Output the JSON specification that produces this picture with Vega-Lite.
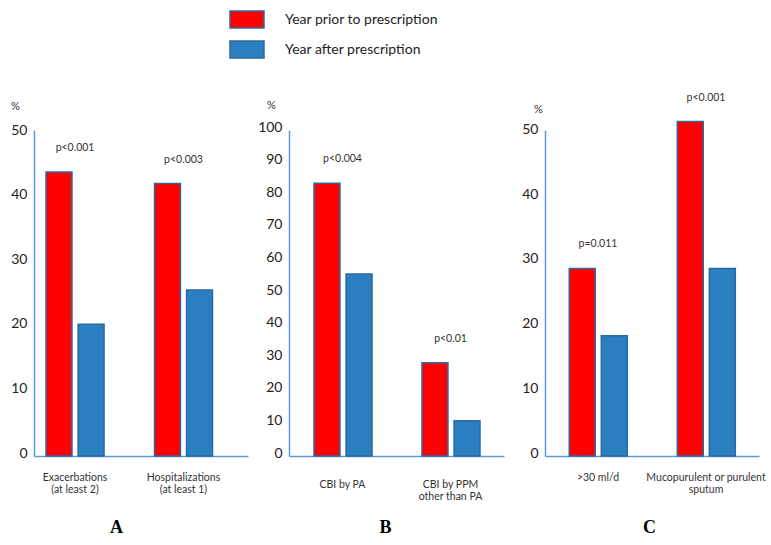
{
  "$schema": "https://vega.github.io/schema/vega-lite/v6.json",
  "padding": {"left": 10, "top": 1, "right": 0, "bottom": 0},
  "background": "white",
  "data": {"values": [
    {"panel": "A", "group": "Exacerbations|(at least 2)", "series": "Year prior to prescription", "value": 44.0, "p": "p<0.001"},
    {"panel": "A", "group": "Exacerbations|(at least 2)", "series": "Year after prescription", "value": 20.4, "p": "p<0.001"},
    {"panel": "A", "group": "Hospitalizations|(at least 1)", "series": "Year prior to prescription", "value": 42.2, "p": "p<0.003"},
    {"panel": "A", "group": "Hospitalizations|(at least 1)", "series": "Year after prescription", "value": 25.7, "p": "p<0.003"},
    {"panel": "B", "group": "CBI by PA", "series": "Year prior to prescription", "value": 83.7, "p": "p<0.004"},
    {"panel": "B", "group": "CBI by PA", "series": "Year after prescription", "value": 55.8, "p": "p<0.004"},
    {"panel": "B", "group": "CBI by PPM|other than PA", "series": "Year prior to prescription", "value": 28.6, "p": "p<0.01"},
    {"panel": "B", "group": "CBI by PPM|other than PA", "series": "Year after prescription", "value": 10.8, "p": "p<0.01"},
    {"panel": "C", "group": ">30 ml/d", "series": "Year prior to prescription", "value": 29.0, "p": "p=0.011"},
    {"panel": "C", "group": ">30 ml/d", "series": "Year after prescription", "value": 18.6, "p": "p=0.011"},
    {"panel": "C", "group": "Mucopurulent or purulent|sputum", "series": "Year prior to prescription", "value": 51.7, "p": "p<0.001"},
    {"panel": "C", "group": "Mucopurulent or purulent|sputum", "series": "Year after prescription", "value": 29.0, "p": "p<0.001"}
  ]},
  "bounds": "flush",
  "spacing": 41,
  "hconcat": [
    {
      "width": 214, "height": 326,
      "transform": [{"filter": "datum.panel === 'A'"}],
      "encoding": {
        "x": {"field": "group", "type": "nominal", "sort": null,
              "scale": {"paddingInner": 0.465, "paddingOuter": 0.219, "align": 0.253},
              "axis": {"title": "A", "titleX": 82, "titleY": 76, "labelExpr": "split(datum.label, '|')", "labelBaseline": "top", "labelPadding": 16}},
        "y": {"field": "value", "type": "quantitative",
              "scale": {"domain": [0, 50.5], "nice": false},
              "axis": {"values": [0, 10, 20, 30, 40, 50], "labelOverlap": false, "title": "%", "titleX": -19, "titleY": -24}}
      },
      "layer": [
        {
          "mark": {"type": "bar", "stroke": "#2C6A9E", "strokeWidth": 1.5},
          "encoding": {
            "xOffset": {"field": "series", "type": "nominal", "sort": ["Year prior to prescription", "Year after prescription"], "scale": {"paddingInner": 0.19, "paddingOuter": 0}},
            "color": {"field": "series", "type": "nominal",
                      "scale": {"domain": ["Year prior to prescription", "Year after prescription"], "range": ["#FF0000", "#2A7FC1"]},
                      "legend": {"orient": "none", "legendX": 195, "legendY": -128.5, "direction": "vertical", "title": null}}
          }
        },
        {
          "transform": [{"filter": "datum.series === 'Year prior to prescription'"}],
          "mark": {"type": "text", "dy": -24, "font": "Lato", "fontSize": 10.5, "color": "#333333", "baseline": "middle"},
          "encoding": {"text": {"field": "p"}}
        }
      ]
    },
    {
      "width": 215, "height": 326,
      "transform": [{"filter": "datum.panel === 'B'"}],
      "encoding": {
        "x": {"field": "group", "type": "nominal", "sort": null,
              "scale": {"paddingInner": 0.472, "paddingOuter": 0.2315, "align": 0.5},
              "axis": {"title": "B", "titleX": 96, "titleY": 76, "labelExpr": "split(datum.label, '|')", "labelBaseline": "middle", "labelPadding": 28}},
        "y": {"field": "value", "type": "quantitative",
              "scale": {"domain": [0, 100], "nice": false},
              "axis": {"values": [0, 10, 20, 30, 40, 50, 60, 70, 80, 90, 100], "labelOverlap": false, "title": "%", "titleX": -18, "titleY": -25}}
      },
      "layer": [
        {
          "mark": {"type": "bar", "stroke": "#2C6A9E", "strokeWidth": 1.5},
          "encoding": {
            "xOffset": {"field": "series", "type": "nominal", "sort": ["Year prior to prescription", "Year after prescription"], "scale": {"paddingInner": 0.19, "paddingOuter": 0}},
            "color": {"field": "series", "type": "nominal",
                      "scale": {"domain": ["Year prior to prescription", "Year after prescription"], "range": ["#FF0000", "#2A7FC1"]},
                      "legend": {"orient": "none", "legendX": 195, "legendY": -128.5, "direction": "vertical", "title": null}}
          }
        },
        {
          "transform": [{"filter": "datum.series === 'Year prior to prescription'"}],
          "mark": {"type": "text", "dy": -24, "font": "Lato", "fontSize": 10.5, "color": "#333333", "baseline": "middle"},
          "encoding": {"text": {"field": "p"}}
        }
      ]
    },
    {
      "width": 214, "height": 326,
      "transform": [{"filter": "datum.panel === 'C'"}],
      "encoding": {
        "x": {"field": "group", "type": "nominal", "sort": null,
              "scale": {"paddingInner": 0.468, "paddingOuter": 0.2245, "align": 0.5},
              "axis": {"title": "C", "titleX": 104, "titleY": 76, "labelExpr": "split(datum.label, '|')", "labelBaseline": "top", "labelPadding": 16}},
        "y": {"field": "value", "type": "quantitative",
              "scale": {"domain": [0, 50.4], "nice": false},
              "axis": {"values": [0, 10, 20, 30, 40, 50], "labelOverlap": false, "title": "%", "titleX": -7, "titleY": -21}}
      },
      "layer": [
        {
          "mark": {"type": "bar", "stroke": "#2C6A9E", "strokeWidth": 1.5},
          "encoding": {
            "xOffset": {"field": "series", "type": "nominal", "sort": ["Year prior to prescription", "Year after prescription"], "scale": {"paddingInner": 0.19, "paddingOuter": 0}},
            "color": {"field": "series", "type": "nominal",
                      "scale": {"domain": ["Year prior to prescription", "Year after prescription"], "range": ["#FF0000", "#2A7FC1"]},
                      "legend": {"orient": "none", "legendX": 195, "legendY": -128.5, "direction": "vertical", "title": null}}
          }
        },
        {
          "transform": [{"filter": "datum.series === 'Year prior to prescription'"}],
          "mark": {"type": "text", "dy": -24, "font": "Lato", "fontSize": 10.5, "color": "#333333", "baseline": "middle"},
          "encoding": {"text": {"field": "p"}}
        }
      ]
    }
  ],
  "config": {
    "view": {"stroke": null},
    "axis": {"domainColor": "#5B9BD5", "domainWidth": 1.5, "ticks": false, "grid": false,
             "labelFont": "Lato", "labelColor": "#222222"},
    "axisY": {"labelFontSize": 14, "labelPadding": 7, "labelOffset": -3, "labelOverlap": false,
              "titleAngle": 0, "titleFont": "Lato", "titleFontSize": 11, "titleFontWeight": "normal", "titleColor": "#333333",
              "titleAlign": "center", "titleBaseline": "middle"},
    "axisX": {"labelFontSize": 10.5, "labelAngle": 0, "labelLineHeight": 12, "labelColor": "#333333",
              "titleFont": "Liberation Serif", "titleFontSize": 18, "titleFontWeight": "bold", "titleColor": "#000000",
              "titleAlign": "center", "titleBaseline": "alphabetic"},
    "legend": {"padding": 0, "symbolType": "M-1,-0.5H1V0.5H-1Z", "symbolSize": 1156, "symbolStrokeColor": "#2C6A9E",
               "symbolStrokeWidth": 1.5, "symbolOpacity": 1, "labelFont": "Lato", "labelFontSize": 14, "labelColor": "#222222",
               "labelOffset": 20, "rowPadding": -2, "labelLimit": 400}
  }
}
